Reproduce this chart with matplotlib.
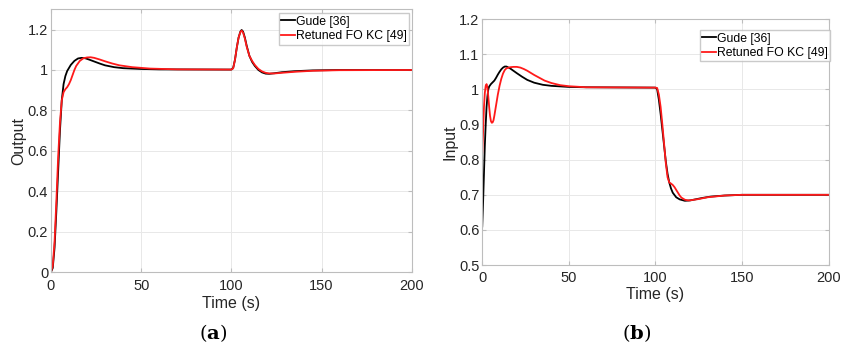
import matplotlib
matplotlib.use("Agg")
import matplotlib.pyplot as plt
from matplotlib.ticker import FuncFormatter

# (a) Output response
t_out_gude = [0, 1, 2, 3, 4, 5, 6, 7, 8, 9, 10, 11, 13, 15, 17, 19, 21, 24, 27, 30, 35, 40, 50, 60,
              100, 101, 102, 103, 104, 105, 105.7, 106.5, 107.5, 108.5, 110, 111.5, 113, 115, 117,
              119, 121, 124, 128, 135, 145, 160, 200]
y_out_gude = [0, 0.02, 0.12, 0.3, 0.5, 0.7, 0.85, 0.93, 0.97, 0.995, 1.01, 1.025, 1.045, 1.057, 1.06,
              1.058, 1.052, 1.042, 1.032, 1.023, 1.014, 1.009, 1.005, 1.003,
              1.002, 1.01, 1.05, 1.11, 1.16, 1.19, 1.198, 1.19, 1.16, 1.12, 1.07, 1.04, 1.02, 1.0,
              0.988, 0.982, 0.981, 0.984, 0.989, 0.994, 0.998, 1.0, 1.0]

t_out_fo = [0, 1, 2, 3, 4, 5, 6, 7, 8, 9, 10, 11, 12, 13, 14, 16, 18, 20, 22, 24, 27, 30, 34, 38,
            45, 55, 70, 100, 101, 102, 103, 104, 105, 105.7, 106.5, 107.5, 108.5, 110, 111.5, 113,
            115, 117, 119, 121, 124, 128, 135, 145, 160, 200]
y_out_fo = [0, 0.03, 0.15, 0.35, 0.57, 0.74, 0.85, 0.89, 0.905, 0.915, 0.93, 0.95, 0.975, 1.0,
            1.02, 1.045, 1.058, 1.062, 1.063, 1.06, 1.052, 1.043, 1.032, 1.023, 1.014, 1.007,
            1.003, 1.002, 1.008, 1.05, 1.11, 1.16, 1.188, 1.195, 1.185, 1.155, 1.115, 1.07,
            1.045, 1.025, 1.005, 0.993, 0.986, 0.983, 0.983, 0.986, 0.991, 0.996, 0.999, 1.0]

# (b) Input response
t_in_gude = [0, 0.5, 1, 1.5, 2, 2.5, 3, 3.5, 4, 5, 6, 7, 8, 9, 10, 11, 12, 13, 14, 16, 18, 20, 23,
             26, 30, 35, 40, 50, 60, 100, 101, 102, 103, 104, 105, 106, 107, 108, 109, 110, 112,
             114, 117, 120, 123, 127, 132, 140, 150, 200]
y_in_gude = [0.61, 0.68, 0.76, 0.84, 0.9, 0.95, 0.98, 1.0, 1.008, 1.015, 1.02, 1.025, 1.033, 1.042,
             1.05, 1.057, 1.062, 1.065, 1.065, 1.06, 1.053, 1.046, 1.036, 1.027, 1.019, 1.013,
             1.01, 1.007, 1.006, 1.005, 1.0, 0.97, 0.93, 0.885, 0.84, 0.795, 0.76, 0.735,
             0.718, 0.706, 0.693, 0.687, 0.683, 0.684, 0.687, 0.691, 0.695, 0.698, 0.7, 0.7]

t_in_fo = [0, 0.5, 1, 1.5, 2, 2.5, 3, 3.5, 4, 4.5, 5, 5.5, 6, 6.5, 7, 8, 9, 10, 11, 12, 13, 14, 16,
           18, 20, 22, 24, 26, 28, 30, 33, 36, 40, 45, 50, 60, 100, 101, 102, 103, 104, 105, 106,
           107, 108, 109, 110, 111, 112, 113, 114, 115, 117, 119, 121, 125, 130, 140, 150, 200]
y_in_fo = [0.82, 0.88, 0.95, 0.99, 1.01, 1.015, 1.005, 0.98, 0.95, 0.925, 0.91, 0.905, 0.906,
           0.912, 0.925, 0.955, 0.985, 1.01, 1.03, 1.045, 1.055, 1.06, 1.063, 1.064, 1.064,
           1.062, 1.058, 1.053, 1.047, 1.041, 1.033, 1.025, 1.018, 1.012, 1.009, 1.006, 1.005,
           1.004, 0.985, 0.95, 0.9, 0.845, 0.79, 0.75, 0.735, 0.732, 0.728, 0.722, 0.714, 0.706,
           0.698, 0.692, 0.686, 0.684, 0.685, 0.688, 0.693, 0.698, 0.7, 0.7]

legend_labels = ["Gude [36]", "Retuned FO KC [49]"]
out_ticks = [0, 0.2, 0.4, 0.6, 0.8, 1, 1.2]
in_ticks = [0.5, 0.6, 0.7, 0.8, 0.9, 1, 1.1, 1.2]
x_ticks = [0, 50, 100, 150, 200]

plt.rcParams["font.family"] = "Liberation Sans"
plt.rcParams["mathtext.fontset"] = "dejavuserif"

fig = plt.figure(figsize=(8.49, 3.47), dpi=100)
ax1 = fig.add_axes([0.060, 0.216, 0.425, 0.757])
ax2 = fig.add_axes([0.568, 0.236, 0.408, 0.709])

fmt = FuncFormatter(lambda v, p: "%g" % v)
leg_kw = dict(fontsize=8.8, frameon=True, fancybox=False, edgecolor="#bdbdbd",
              borderpad=0.2, handlelength=1.1, handletextpad=0.1, labelspacing=0.2)


def style(ax, yticks, ylim, ylabel, xpad):
    ax.set_xlim(0, 200)
    ax.set_ylim(*ylim)
    ax.set_xticks(x_ticks)
    ax.set_yticks(yticks)
    ax.yaxis.set_major_formatter(fmt)
    ax.grid(color="#e8e8e8", linewidth=0.7)
    ax.set_axisbelow(True)
    for s in ax.spines.values():
        s.set_color("#bdbdbd")
        s.set_linewidth(0.8)
    ax.tick_params(direction="in", length=3, color="#bdbdbd", labelsize=10.5,
                   labelcolor="#262626", pad=2, top=True, right=True)
    ax.tick_params(axis="x", pad=xpad)
    ax.set_xlabel("Time (s)", fontsize=11.5, labelpad=2, color="#262626")
    ax.set_ylabel(ylabel, fontsize=11.5, labelpad=1, color="#262626")


ax1.plot(t_out_gude, y_out_gude, color="black", lw=1.3, label=legend_labels[0])
ax1.plot(t_out_fo, y_out_fo, color="#ff1a1a", lw=1.3, label=legend_labels[1])
style(ax1, out_ticks, (0, 1.3), "Output", 5)
ax1.legend(loc="upper right", bbox_to_anchor=(0.993, 0.985), borderaxespad=0, **leg_kw)

ax2.plot(t_in_gude, y_in_gude, color="black", lw=1.3, label=legend_labels[0])
ax2.plot(t_in_fo, y_in_fo, color="#ff1a1a", lw=1.3, label=legend_labels[1])
style(ax2, in_ticks, (0.5, 1.2), "Input", 4)
ax2.legend(loc="upper right", bbox_to_anchor=(1.005, 0.955), borderaxespad=0, **leg_kw)

fig.text(0.251, 0.022, r"($\mathbf{a}$)", ha="center", fontsize=14, family="DejaVu Serif")
fig.text(0.750, 0.022, r"($\mathbf{b}$)", ha="center", fontsize=14, family="DejaVu Serif")

fig.savefig("out.png", dpi=100)
